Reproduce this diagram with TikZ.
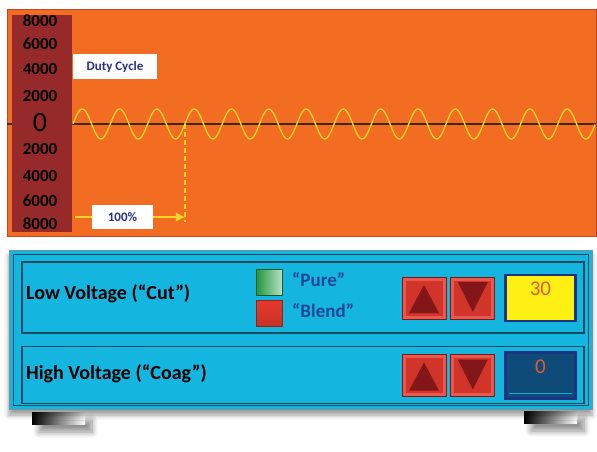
\documentclass[tikz,border=0pt]{standalone}
\usepackage{fontspec}
\setmainfont{Carlito}
\usetikzlibrary{arrows.meta,positioning,calc,shadows.blur}
\definecolor{ScopeOr}{RGB}{242,108,34}
\definecolor{ScopeEdge}{RGB}{196,70,40}
\definecolor{AxisRed}{RGB}{150,42,42}
\definecolor{AxisLine}{RGB}{60,40,20}
\definecolor{WaveYl}{RGB}{255,214,40}
\definecolor{LabBlue}{RGB}{40,50,140}
\definecolor{PanCyan}{RGB}{20,182,224}
\definecolor{PanEdge}{RGB}{20,75,95}
\definecolor{BtnRed}{RGB}{232,58,44}
\definecolor{TriRed}{RGB}{130,22,24}
\definecolor{DispYl}{RGB}{255,240,20}
\definecolor{DispNavy}{RGB}{30,50,130}
\definecolor{DispBlue}{RGB}{15,75,120}
\definecolor{NumRed}{RGB}{225,90,45}
\definecolor{ModeBlue}{RGB}{30,70,150}
\definecolor{LedGreen}{RGB}{30,150,60}
\tikzset{
  ylab/.style={font=\fontsize{17}{17}\selectfont\bfseries,inner sep=0pt},
  tag/.style={fill=white,inner sep=0pt,text=LabBlue,
              font=\fontsize{13}{13}\selectfont\bfseries},
  row/.style={draw=PanEdge,line width=1.2pt,minimum width=562pt,inner sep=0pt},
  btn/.style={fill=BtnRed!90!black,draw=BtnRed!50!black,line width=0.8pt,
              minimum width=44pt,minimum height=42pt,inner sep=0pt,
              path picture={\draw[BtnRed!85!white,line width=7pt]
                (path picture bounding box.south west) rectangle (path picture bounding box.north east);}},
  disp/.style={draw=DispNavy,line width=2.5pt,minimum width=70pt,
               minimum height=46pt,inner sep=0pt},
  numtxt/.style={font=\fontsize{21}{21}\selectfont,text=NumRed,anchor=base,inner sep=0pt},
  led/.style={minimum size=26pt,inner sep=0pt,line width=0.6pt},
  mode/.style={font=\fontsize{19}{19}\selectfont\bfseries,text=ModeBlue,
               anchor=base west,inner sep=0pt},
  volt/.style={font=\fontsize{20}{20}\selectfont\bfseries,anchor=base west,inner sep=0pt},
  foot/.style={left color=black,right color=white,minimum width=53pt,
               minimum height=12pt,inner sep=0pt,
               blur shadow={shadow xshift=7pt,shadow yshift=-8pt,shadow blur radius=6pt,
                            shadow opacity=45,shadow blur steps=10}},
  wave/.style={WaveYl,line width=1.3pt},
  guide/.style={WaveYl,line width=1.6pt},
  duty/.style={guide,-{Latex[length=9pt,width=10pt]}},
}

\begin{document}
\begin{tikzpicture}[x=1pt,y=-1pt]
  \useasboundingbox (0,0) rectangle (597,452);
  \node[fill=ScopeOr,draw=ScopeEdge,line width=1pt,minimum width=589pt,
        minimum height=226pt,inner sep=0pt] (scope) at (301.5,123) {};
  \coordinate (ax0) at (7,124);
  \coordinate (ax1) at (596,124);
  \draw[AxisLine,line width=2pt] (ax0) -- (ax1);
  \node[fill=AxisRed,minimum width=60pt,minimum height=217pt,inner sep=0pt] (yaxis) at (42,123.5) {};
  \draw[wave] plot[domain=0:14,samples=420,smooth] ({73+37.3*\x},{124-15*sin(360*\x)});
  \foreach \v/\yy [count=\i] in {8000/21,6000/44,4000/69,2000/96,2000/149,4000/176,6000/201,8000/224}
    \node[ylab] (yl\i) at (40,\yy) {\v};
  \node[font=\fontsize{28}{28}\selectfont,inner sep=0pt] (yzero) at (40,123) {0};
  \node[tag,minimum width=84pt,minimum height=25pt] (duty) at (115,66.5) {Duty Cycle};
  \node[tag,minimum width=61pt,minimum height=24pt] (pct) at (122.5,217) {100\%};
  \coordinate (dstart) at (75,217);
  \coordinate (zc) at ({73+3*37.3},124);
  \coordinate (dtip) at (zc |- pct);
  \draw[guide] (dstart) -- (pct.west);
  \draw[duty] (pct.east) -- (dtip);
  \draw[guide,dash pattern=on 5pt off 3pt] (zc) -- ($(dtip)+(0,5)$);

  \node[foot] (footl) at (58.5,418) {};
  \node[foot] (footr) at (550.5,417) {};
  \node[fill=PanCyan,draw=PanEdge!60,line width=1pt,minimum width=583pt,
        minimum height=159pt,inner sep=0pt,
        blur shadow={shadow xshift=0pt,shadow yshift=-6pt,shadow blur radius=5pt}] (panel) at (300.5,329.5) {};
  \node[draw=PanEdge,line width=0.8pt,minimum width=575pt,minimum height=151pt,inner sep=0pt] (rim) at (panel.center) {};
  \node[row,minimum height=71pt] (cut) at (303,297.5) {};
  \node[row,minimum height=57pt] (coag) at (303,375) {};
  \node[volt] (cutlab) at (26,299) {Low Voltage (``Cut'')};
  \node[volt] (coaglab) at (26,379) {High Voltage (``Coag'')};
  \node[led,left color=LedGreen,right color=LedGreen!30!white,draw=LedGreen!60!black] (pure) at (269,282) {};
  \node[led,top color=BtnRed,bottom color=BtnRed!85!black,draw=BtnRed!60!black] (blend) at (269,313.5) {};
  \node[mode] (purelab) at (292,286.5) {``Pure''};
  \node[mode] (blendlab) at (292,317.5) {``Blend''};
  \foreach \r/\yy in {1/298,2/375.5} {
    \node[btn] (up\r) at (424,\yy) {};
    \node[btn,right=4pt of up\r] (dn\r) {};
    \fill[TriRed] ($(up\r.center)+(-15,15)$) -- ($(up\r.center)+(15,15)$) -- ($(up\r.center)+(0,-13)$) -- cycle;
    \fill[TriRed] ($(dn\r.center)+(-15,-16)$) -- ($(dn\r.center)+(15,-16)$) -- ($(dn\r.center)+(0,14)$) -- cycle;
  }
  \node[disp,fill=DispYl,right=9pt of dn1] (volt1) {};
  \node[disp,fill=DispBlue,right=9pt of dn2] (volt2) {};
  \draw[DispNavy!40!cyan,line width=1pt] ($(volt2.south west)+(5,-6)$) -- ($(volt2.south east)+(-5,-6)$);
  \node[numtxt] (num1) at ($(volt1.north)+(0,22)$) {30};
  \node[numtxt] (num2) at ($(volt2.north)+(0,22)$) {0};
\end{tikzpicture}
\end{document}
